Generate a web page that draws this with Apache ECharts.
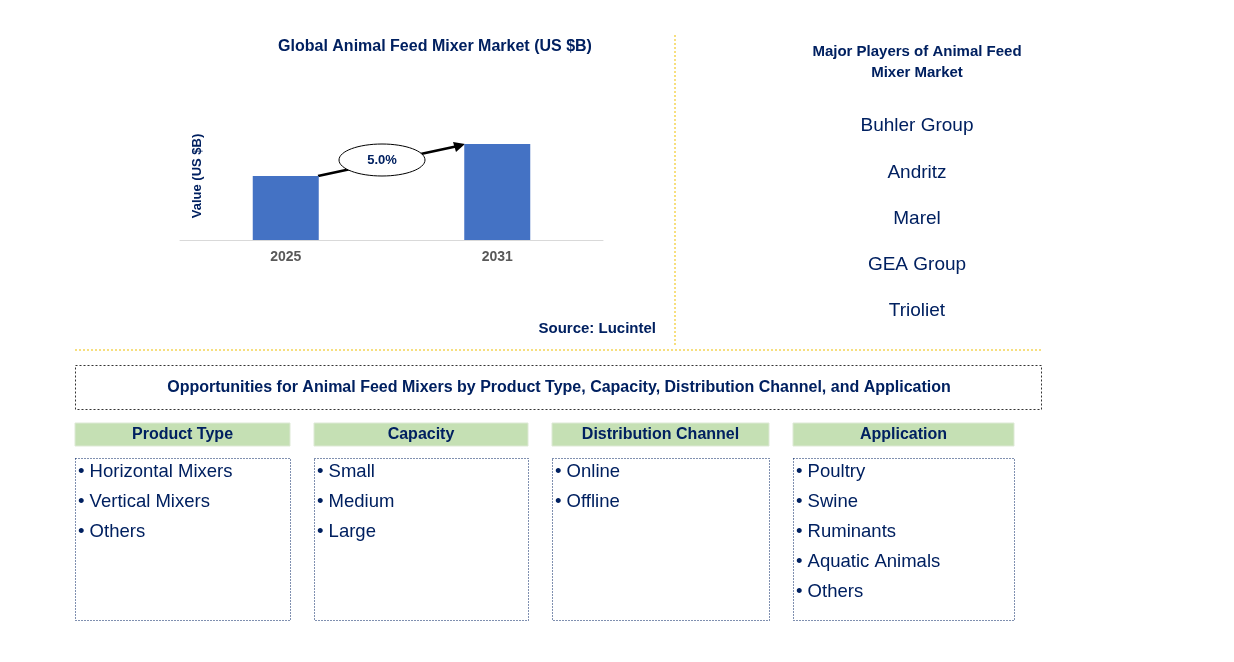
<!DOCTYPE html>
<html>
<head>
<meta charset="utf-8">
<script src="https://cdn.jsdelivr.net/npm/echarts@6/dist/echarts.min.js"></script>
<style>
  html, body { margin: 0; padding: 0; background: #fff; }
  #chart { width: 1234px; height: 662px; }
</style>
</head>
<body>
<div id="chart"></div>
<script>
// chart data
var years = ['2025', '2031']
var values = [1.0, 1.5]
var cagr = '5.0%'
var players = ['Buhler Group', 'Andritz', 'Marel', 'GEA Group', 'Trioliet']
var segTitles = ['Product Type', 'Capacity', 'Distribution Channel', 'Application']
var segItems = [
  ['Horizontal Mixers', 'Vertical Mixers', 'Others'],
  ['Small', 'Medium', 'Large'],
  ['Online', 'Offline'],
  ['Poultry', 'Swine', 'Ruminants', 'Aquatic Animals', 'Others']
]

var navy = '#002060'
var font = 'Arial, "Liberation Sans", sans-serif'
var myChart = echarts.init(document.getElementById('chart'))

var g = []
function line(x1, y1, x2, y2, color, dash) {
  g.push({ type: 'line', shape: { x1: x1, y1: y1, x2: x2, y2: y2 }, style: { stroke: color, lineWidth: 1, lineDash: dash } })
}
function rect(x, y, w, h, fill, stroke, dash) {
  g.push({ type: 'rect', shape: { x: x, y: y, width: w, height: h }, style: { fill: fill, stroke: stroke, lineWidth: 1, lineDash: dash } })
}

// titles
g.push({ type: 'text', x: 435, y: 47, style: { text: 'Global Animal Feed Mixer Market (US $B)', fill: navy, font: 'bold 16px ' + font, textAlign: 'center', textVerticalAlign: 'middle' } })
g.push({ type: 'text', x: 656, y: 329, style: { text: 'Source: Lucintel', fill: navy, font: 'bold 15px ' + font, textAlign: 'right', textVerticalAlign: 'middle' } })
g.push({ type: 'text', x: 917, y: 62, style: { text: 'Major Players of Animal Feed\nMixer Market', fill: navy, font: 'bold 15px ' + font, textAlign: 'center', textVerticalAlign: 'middle', lineHeight: 21 } })
players.forEach(function (p, i) {
  g.push({ type: 'text', x: 917, y: 126 + i * 46.3, style: { text: p, fill: navy, font: '19px ' + font, textAlign: 'center', textVerticalAlign: 'middle' } })
})

// separators
line(675, 35, 675, 345, '#f0c000', [2, 2])
line(75, 350, 1042, 350, '#f0c000', [2, 2])

// opportunities box
rect(75.5, 365.5, 966, 44, null, '#333', [2, 2])
g.push({ type: 'text', x: 559, y: 388, style: { text: 'Opportunities for Animal Feed Mixers by Product Type, Capacity, Distribution Channel, and Application', fill: navy, font: 'bold 16px ' + font, textAlign: 'center', textVerticalAlign: 'middle' } })

var cols = [[75, 215], [314, 214], [552, 217], [793, 221]]
segTitles.forEach(function (t, i) {
  var x = cols[i][0], w = cols[i][1]
  rect(x, 423, w, 23, '#c5e0b4', '#dde9d5')
  g.push({ type: 'text', x: x + w / 2, y: 435, style: { text: t, fill: navy, font: 'bold 16px ' + font, textAlign: 'center', textVerticalAlign: 'middle' } })
  rect(x + 0.5, 458.5, w, 162, null, navy, [1, 2])
  segItems[i].forEach(function (s, j) {
    g.push({ type: 'text', x: x + 3, y: 472 + j * 30, style: { text: '\u2022 ' + s, fill: navy, font: '18.5px ' + font, textVerticalAlign: 'middle' } })
  })
})

// CAGR arrow + ellipse
g.push({ type: 'line', shape: { x1: 318, y1: 176, x2: 458, y2: 146 }, style: { stroke: '#000', lineWidth: 2.5 } })
g.push({ type: 'polygon', shape: { points: [[465, 144], [453, 142], [456, 152]] }, style: { fill: '#000' } })
g.push({ type: 'ellipse', shape: { cx: 382, cy: 160, rx: 43, ry: 16 }, style: { fill: '#fff', stroke: '#000', lineWidth: 1 } })
g.push({ type: 'text', x: 382, y: 160, style: { text: cagr, fill: navy, font: 'bold 13px ' + font, textAlign: 'center', textVerticalAlign: 'middle' } })

var option = {
  animation: false,
  grid: { left: 180, top: 112, width: 423, height: 128 },
  xAxis: {
    type: 'category',
    data: years,
    axisLine: { lineStyle: { color: '#d9d9d9' } },
    axisTick: { show: false },
    axisLabel: { color: '#595959', fontWeight: 'bold', fontSize: 14, fontFamily: font, margin: 10 }
  },
  yAxis: {
    type: 'value', min: 0, max: 2,
    name: 'Value (US $B)', nameLocation: 'middle', nameGap: -24,
    nameTextStyle: { color: navy, fontWeight: 'bold', fontSize: 13, fontFamily: font },
    axisLabel: { show: false }, axisLine: { show: false }, axisTick: { show: false }, splitLine: { show: false }
  },
  series: [{ type: 'bar', data: values, barWidth: 66, itemStyle: { color: '#4472c4' } }],
  graphic: g
}
myChart.setOption(option)
</script>
</body>
</html>
